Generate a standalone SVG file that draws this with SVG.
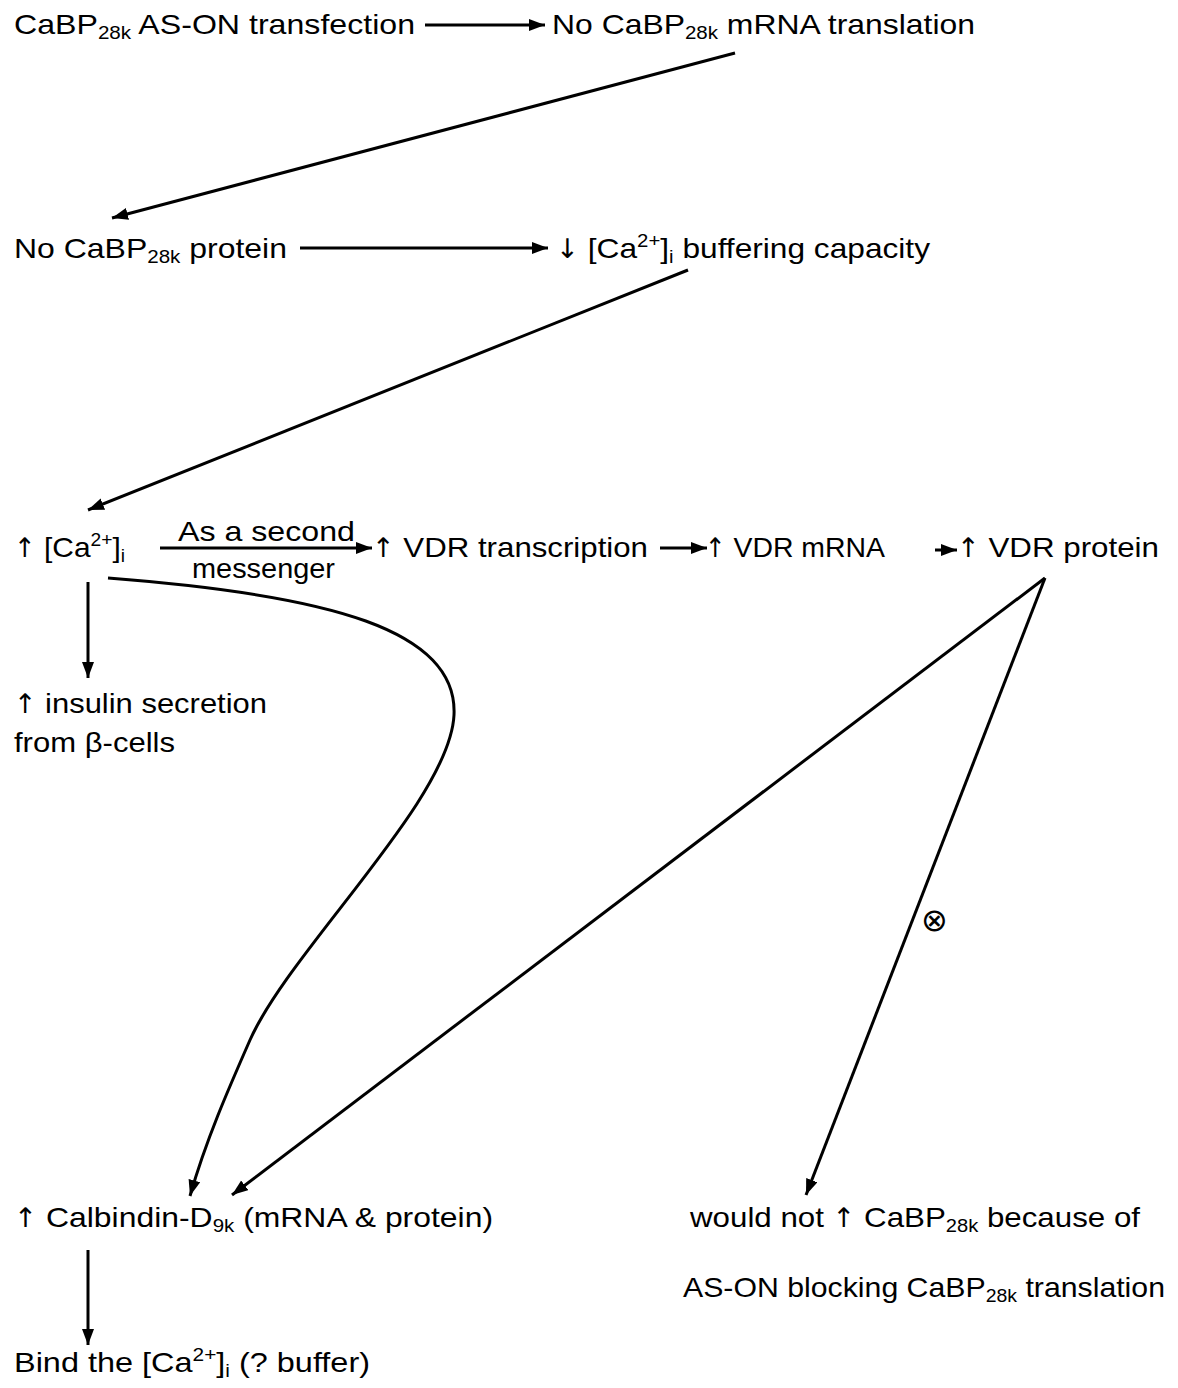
<svg xmlns="http://www.w3.org/2000/svg" width="1178" height="1388" viewBox="0 0 1178 1388">
<style>
text{font-family:"Liberation Sans",Arial,sans-serif;font-size:28px;fill:#000}
.s{font-size:18px}
.a{font-family:"DejaVu Sans",sans-serif;font-size:27px;font-stretch:condensed}
.sym{font-family:"DejaVu Sans",sans-serif;font-size:32px}
.c{fill:none;stroke:#000;stroke-width:3}
</style>
<defs>
<marker id="ah" markerUnits="userSpaceOnUse" markerWidth="18" markerHeight="14" refX="16" refY="6" orient="auto">
<path d="M0,0 L16,6 L0,12 z" fill="#000"/>
</marker>
</defs>
<rect width="1178" height="1388" fill="#fff"/>
<g id="connectors">
<line class="c" x1="425" y1="25" x2="545" y2="25" marker-end="url(#ah)"/>
<line class="c" x1="735" y1="53" x2="112" y2="218" marker-end="url(#ah)"/>
<line class="c" x1="300" y1="248" x2="548" y2="248" marker-end="url(#ah)"/>
<line class="c" x1="688" y1="270" x2="88" y2="510" marker-end="url(#ah)"/>
<line class="c" x1="160" y1="548" x2="372" y2="548" marker-end="url(#ah)"/>
<line class="c" x1="660" y1="548" x2="707" y2="548" marker-end="url(#ah)"/>
<line class="c" x1="935" y1="550" x2="957" y2="550" marker-end="url(#ah)"/>
<line class="c" x1="88" y1="582" x2="88" y2="678" marker-end="url(#ah)"/>
<path class="c" d="M108,578 C330,595 458,630 454,715 C450,800 290,950 250,1040 C228,1090 206,1140 190,1196" marker-end="url(#ah)"/>
<line class="c" x1="1045" y1="578" x2="232" y2="1195" marker-end="url(#ah)"/>
<line class="c" x1="1045" y1="578" x2="806" y2="1195" marker-end="url(#ah)"/>
<line class="c" x1="88" y1="1250" x2="88" y2="1345" marker-end="url(#ah)"/>
<text class="sym" x="921" y="931">⊗</text>
</g>
<g id="n1"><text x="14" y="34" textLength="401" lengthAdjust="spacingAndGlyphs">CaBP<tspan class="s" dy="5">28k</tspan><tspan dy="-5"> AS-ON transfection</tspan></text></g>
<g id="n2"><text x="552" y="34" textLength="423" lengthAdjust="spacingAndGlyphs">No CaBP<tspan class="s" dy="5">28k</tspan><tspan dy="-5"> mRNA translation</tspan></text></g>
<g id="n3"><text x="14" y="258" textLength="273" lengthAdjust="spacingAndGlyphs">No CaBP<tspan class="s" dy="5">28k</tspan><tspan dy="-5"> protein</tspan></text></g>
<g id="n4"><text x="556" y="258" textLength="374" lengthAdjust="spacingAndGlyphs"><tspan class="a">↓</tspan> [Ca<tspan class="s" dy="-11">2+</tspan><tspan dy="11">]</tspan><tspan class="s" dy="5">i</tspan><tspan dy="-5"> buffering capacity</tspan></text></g>
<g id="n5"><text x="14" y="557" textLength="111" lengthAdjust="spacingAndGlyphs"><tspan class="a">↑</tspan> [Ca<tspan class="s" dy="-11">2+</tspan><tspan dy="11">]</tspan><tspan class="s" dy="5">i</tspan></text></g>
<g id="lbl"><text x="178" y="541" textLength="177" lengthAdjust="spacingAndGlyphs">As a second</text><text x="192" y="578" textLength="143" lengthAdjust="spacingAndGlyphs">messenger</text></g>
<g id="n6"><text x="372" y="557" textLength="276" lengthAdjust="spacingAndGlyphs"><tspan class="a">↑</tspan> VDR transcription</text></g>
<g id="n7"><text x="705" y="557" textLength="180" lengthAdjust="spacingAndGlyphs"><tspan class="a">↑</tspan> VDR mRNA</text></g>
<g id="n8"><text x="957" y="557" textLength="202" lengthAdjust="spacingAndGlyphs"><tspan class="a">↑</tspan> VDR protein</text></g>
<g id="n9"><text x="14" y="713" textLength="253" lengthAdjust="spacingAndGlyphs"><tspan class="a">↑</tspan> insulin secretion</text><text x="14" y="752" textLength="161" lengthAdjust="spacingAndGlyphs">from β-cells</text></g>
<g id="n10"><text x="14" y="1227" textLength="479" lengthAdjust="spacingAndGlyphs"><tspan class="a">↑</tspan> Calbindin-D<tspan class="s" dy="5">9k</tspan><tspan dy="-5"> (mRNA &amp; protein)</tspan></text></g>
<g id="n11"><text x="14" y="1372" textLength="356" lengthAdjust="spacingAndGlyphs">Bind the [Ca<tspan class="s" dy="-11">2+</tspan><tspan dy="11">]</tspan><tspan class="s" dy="5">i</tspan><tspan dy="-5"> (? buffer)</tspan></text></g>
<g id="n12"><text x="690" y="1227" textLength="450" lengthAdjust="spacingAndGlyphs">would not <tspan class="a">↑</tspan> CaBP<tspan class="s" dy="5">28k</tspan><tspan dy="-5"> because of</tspan></text><text x="683" y="1297" textLength="482" lengthAdjust="spacingAndGlyphs">AS-ON blocking CaBP<tspan class="s" dy="5">28k</tspan><tspan dy="-5"> translation</tspan></text></g>
</svg>
